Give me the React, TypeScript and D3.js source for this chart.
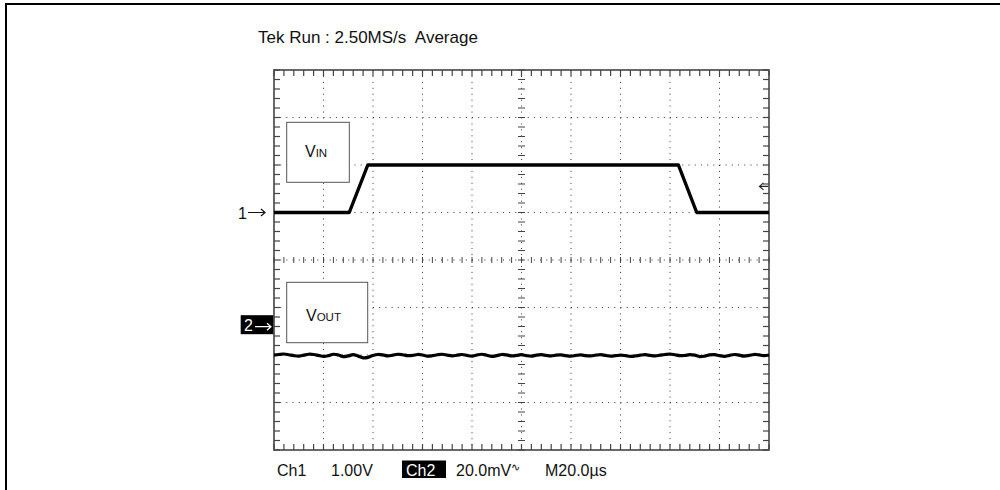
import React from "react";
import * as d3 from "d3";

// ---- data ----
const TITLE = "Tek Run : 2.50MS/s  Average";
const CH1_LABEL = "Ch1";
const CH1_SCALE = "1.00V";
const CH2_LABEL = "Ch2";
const CH2_SCALE = "20.0mV";
const TIMEBASE = "M20.0µs";

// VIN trace (time µs, volts) – Ch1, 1.00 V/div
const VIN_T = [0, 30.4, 37.9, 163.4, 170.8, 200];
const VIN_V = [0, 0, 1, 1, 0, 0];

// VOUT trace – Ch2, 20 mV/div, sampled every 2 µs (mV)
const VOUT_MV = [
  -12.0, -11.7, -11.5, -11.8, -12.2, -12.4, -12.0, -11.6, -11.7, -12.1,
  -12.5, -12.2, -11.6, -11.9, -12.6, -12.3, -11.8, -12.4, -13.1, -12.9,
  -12.1, -11.7, -11.9, -12.3, -12.0, -11.6, -11.8, -12.2, -12.1, -11.7,
  -11.9, -12.4, -12.2, -11.8, -11.6, -12.0, -12.3, -12.0, -11.7, -12.1,
  -12.4, -11.9, -11.6, -12.0, -12.5, -12.2, -11.7, -11.9, -12.3, -12.1,
  -11.8, -12.2, -12.4, -12.0, -11.8, -12.1, -12.3, -12.0, -11.9, -12.2,
  -12.4, -12.1, -11.9, -12.2, -12.3, -12.0, -11.8, -12.1, -12.4, -12.2,
  -12.0, -12.2, -12.5, -12.3, -12.0, -11.8, -12.1, -12.3, -12.0, -11.7,
  -11.5, -11.8, -12.2, -12.1, -11.8, -12.0, -12.6, -12.4, -11.9, -11.8,
  -12.2, -12.5, -12.1, -11.7, -12.0, -12.4, -12.1, -11.7, -11.9, -12.2,
  -11.9,
];
const VOUT_DT = 2;

const CH1_POS = 1; // divisions
const CH2_POS = -1.404; // divisions
const CH1_VDIV = 1.0;
const CH2_MVDIV = 20;
const TRIGGER_DIV = 1.55;

const X_DIVS = d3.range(0, 11);
const Y_DIVS = d3.range(-4, 5);

function arrowPath(x0: number, x1: number, yy: number) {
  return `M${x0},${yy} H${x1} M${x1 - 4},${yy - 3.5} L${x1},${yy} L${x1 - 4},${yy + 3.5}`;
}

export default function App() {
  const L = 274, R = 769, T = 70, B = 450;
  const x = d3.scaleLinear().domain([0, 200]).range([L, R]);
  const xd = d3.scaleLinear().domain([0, 10]).range([L, R]);
  const y = d3.scaleLinear().domain([-4, 4]).range([B, T]);
  const font = "'Liberation Sans', Arial, Helvetica, sans-serif";

  const vinLine = d3
    .line<number>()
    .x((_, i) => x(VIN_T[i]))
    .y((v) => y(v / CH1_VDIV + CH1_POS));
  const voutLine = d3
    .line<number>()
    .x((_, i) => x(i * VOUT_DT))
    .y((v) => y(v / CH2_MVDIV + CH2_POS))
    .curve(d3.curveCatmullRom);

  const minorX = d3.range(0, 50.001, 1).map((k) => xd(k / 5));
  const minorY = d3.range(-20, 20.001, 1).map((k) => y(k / 5));
  const pxPerDivX = xd(1) - xd(0);
  const pxPerDivY = y(0) - y(1);
  const dotCol = "#333";

  const tickLen = 6;
  const cx = xd(5);
  const cy = y(0);
  const y1m = y(CH1_POS);
  const y2m = y(CH2_POS);
  const yt = y(TRIGGER_DIV);

  return (
    <svg
      width={1000}
      height={490}
      style={{ position: "absolute", left: 0, top: 0, background: "#fff" }}
      fontFamily={font}
    >
      <rect x={0} y={0} width={1000} height={490} fill="#fff" />
      {/* outer frame */}
      <line x1={6} x2={6} y1={4} y2={490} stroke="#000" strokeWidth={2} />
      <line x1={5} x2={1000} y1={4} y2={4} stroke="#000" strokeWidth={2} />

      <text x={258} y={43} fontSize={17} fill="#111" style={{ whiteSpace: "pre" }}>
        {TITLE}
      </text>

      {/* dotted graticule */}
      {X_DIVS.slice(1, -1).map((d) => (
        <line
          key={"vx" + d}
          x1={xd(d)}
          x2={xd(d)}
          y1={T}
          y2={B}
          stroke={dotCol}
          strokeWidth={1}
          strokeDasharray={`1 ${pxPerDivY / 8 - 1}`}
        />
      ))}
      {Y_DIVS.slice(1, -1).map((d) => (
        <line
          key={"hy" + d}
          x1={L}
          x2={R}
          y1={y(d)}
          y2={y(d)}
          stroke={dotCol}
          strokeWidth={1}
          strokeDasharray={`1 ${pxPerDivX / 8 - 1}`}
        />
      ))}
      {/* center axis ticks */}
      {minorX.map((px, i) => (
        <line key={"cxt" + i} x1={px} x2={px} y1={cy - 3} y2={cy + 3} stroke="#444" strokeWidth={1} />
      ))}
      {minorY.map((py, i) => (
        <line key={"cyt" + i} x1={cx - 3.5} x2={cx + 3.5} y1={py} y2={py} stroke="#444" strokeWidth={1} />
      ))}

      {/* border ticks */}
      {minorX.map((px, i) => (
        <g key={"bxt" + i}>
          <line x1={px} x2={px} y1={T} y2={T + tickLen} stroke="#444" strokeWidth={1.2} />
          <line x1={px} x2={px} y1={B} y2={B - tickLen} stroke="#444" strokeWidth={1.2} />
        </g>
      ))}
      {minorY.map((py, i) => (
        <g key={"byt" + i}>
          <line x1={L} x2={L + tickLen} y1={py} y2={py} stroke="#444" strokeWidth={1.2} />
          <line x1={R} x2={R - tickLen} y1={py} y2={py} stroke="#444" strokeWidth={1.2} />
        </g>
      ))}
      <rect x={L} y={T} width={R - L} height={B - T} fill="none" stroke="#444" strokeWidth={1.6} />

      {/* label boxes */}
      <rect x={286.7} y={122.3} width={62.6} height={60} fill="#fff" stroke="#555" strokeWidth={1} />
      <text x={305} y={157} fontSize={16} fill="#111">
        V<tspan fontSize={11.5}>IN</tspan>
      </text>
      <rect x={286.7} y={282.3} width={81} height={60.4} fill="#fff" stroke="#555" strokeWidth={1} />
      <text x={306} y={321} fontSize={16} fill="#111">
        V<tspan fontSize={11.5}>OUT</tspan>
      </text>

      {/* traces */}
      <path d={vinLine(VIN_V) || ""} fill="none" stroke="#000" strokeWidth={3.4} strokeLinejoin="round" />
      <path d={voutLine(VOUT_MV) || ""} fill="none" stroke="#000" strokeWidth={3.2} strokeLinejoin="round" />

      {/* trigger marker */}
      <path
        d={`M${R - 1},${yt} H${R - 9} M${R - 5.5},${yt - 3.5} L${R - 9.5},${yt} L${R - 5.5},${yt + 3.5}`}
        fill="none"
        stroke="#222"
        strokeWidth={1.2}
      />

      {/* channel markers */}
      <text x={238} y={y1m + 6} fontSize={16} fill="#111">
        1
      </text>
      <path d={arrowPath(248, 265, y1m)} fill="none" stroke="#111" strokeWidth={1.2} />
      <rect x={240.7} y={y2m - 11.5} width={32.6} height={19} fill="#000" />
      <text x={244} y={y2m + 4.5} fontSize={16} fill="#fff">
        2
      </text>
      <path d={arrowPath(255, 271, y2m)} fill="none" stroke="#fff" strokeWidth={1.2} />

      {/* bottom readout */}
      <text x={277} y={475.5} fontSize={16} fill="#111">
        {CH1_LABEL}
      </text>
      <text x={331} y={475.5} fontSize={16} fill="#111">
        {CH1_SCALE}
      </text>
      <rect x={402} y={460.5} width={44} height={17.5} fill="#000" />
      <text x={406} y={475.5} fontSize={16} fill="#fff">
        {CH2_LABEL}
      </text>
      <text x={456} y={475.5} fontSize={16} fill="#111">
        {CH2_SCALE}
        <tspan fontSize={11} dy={-5}>∿</tspan>
      </text>
      <text x={545} y={475.5} fontSize={16} fill="#111">
        {TIMEBASE}
      </text>
    </svg>
  );
}
